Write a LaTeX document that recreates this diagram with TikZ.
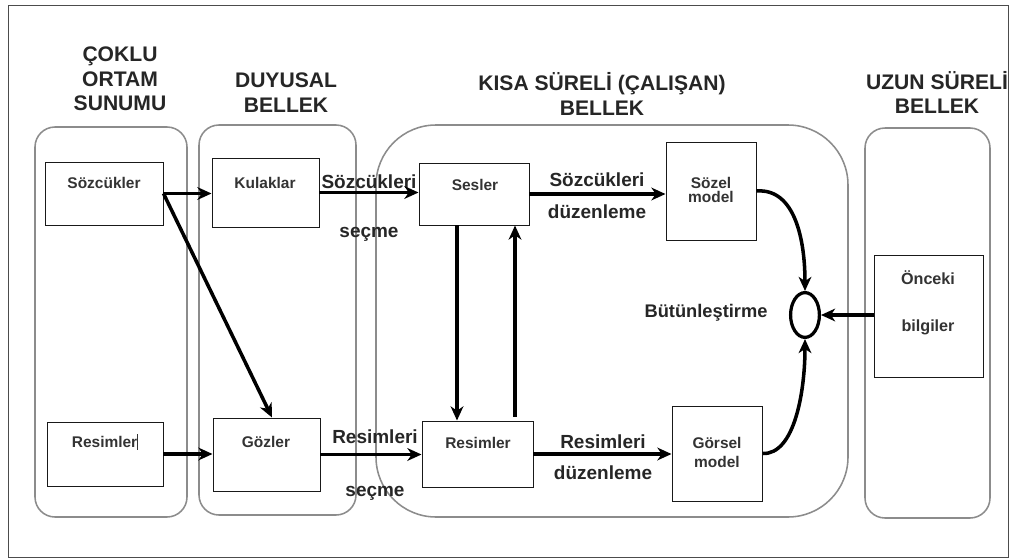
\documentclass[tikz,border=0pt]{standalone}
\usepackage{fontspec}
\setmainfont{Liberation Sans}
\usetikzlibrary{arrows.meta,fit,shapes.geometric}
\tikzset{
  cont/.style={draw=black!45, line width=1.1pt, rounded corners=0.5cm, inner sep=0pt},
  box/.style={draw=black!90, line width=0.7pt, inner sep=0pt},
  arr/.style={line width=2.5pt, -{Stealth[length=10pt,width=9pt,inset=3pt]}},
  head/.style={font=\fontsize{15}{17.5}\selectfont\bfseries, align=center, text=black!85, inner sep=0pt},
  blab/.style={font=\fontsize{11}{13}\selectfont\bfseries, text=black!80, inner sep=0pt, align=center},
  alab/.style={font=\fontsize{13.5}{15}\selectfont\bfseries, text=black!85, inner sep=0pt},
}
\begin{document}
\begin{tikzpicture}[x=0.025cm, y=-0.025cm]
\useasboundingbox (0,0) rectangle (1014,559);
\draw[black!70, line width=0.6pt] (8,5) rectangle (1008,557);

% containers
\node[cont, fit={(35,127) (187,517)}] (c1) {};
\node[cont, fit={(199,125) (356,515)}] (c2) {};
\node[cont, rounded corners=1.5cm, fit={(376,125) (848,517)}] (c3) {};
\node[cont, fit={(865,128) (990,518)}] (c4) {};

% headings
\node[head] (h1) at (120,79) {ÇOKLU\\ORTAM\\SUNUMU};
\node[head] (h2) at (286,92.5) {DUYUSAL\\BELLEK};
\node[head] (h3) at (602,94) {KISA SÜRELİ (ÇALIŞAN)\\BELLEK};
\node[head] (h4) at (937,92.5) {UZUN SÜRELİ\\BELLEK};

% inner boxes
\node[box, fit={(45,162) (163,225)}] (sozB) {};
\node[box, fit={(212,158) (319,227)}] (kulB) {};
\node[box, fit={(47,422) (163,486)}] (resL) {};
\node[box, fit={(213,418) (320,491)}] (gozB) {};
\node[box, fit={(419,163) (529,225)}] (sesB) {};
\node[box, fit={(666,142) (756,240)}] (sozel) {};
\node[box, fit={(422,421) (533,487)}] (resM) {};
\node[box, fit={(672,406) (762,501)}] (gors) {};
\node[box, fit={(874,255) (983,377)}] (once) {};
\node[draw, ellipse, line width=2.3pt, minimum width=0.72cm, minimum height=1.12cm, inner sep=0pt] (ell) at (805,315) {};

% box labels
\node[blab] (t1) at (104,183) {Sözcükler};
\node[blab] (t2) at (265,183) {Kulaklar};
\node[blab] (t3) at (105,442) {Resimler\rule[-1.5pt]{0.6pt}{11pt}};
\node[blab] (t4) at (266,442) {Gözler};
\node[blab] (t5) at (475,185) {Sesler};
\node[blab, font=\fontsize{11}{10}\selectfont\bfseries] (t6) at (711,190) {Sözel\\model};
\node[blab] (t7) at (478,443) {Resimler};
\node[blab, font=\fontsize{11}{13.5}\selectfont\bfseries] (t8) at (717,452) {Görsel\\model};
\node[blab, font=\fontsize{11.5}{13}\selectfont\bfseries] (t9) at (928,278) {Önceki};
\node[blab, font=\fontsize{11.5}{13}\selectfont\bfseries] (t10) at (928,327) {bilgiler};
\node[alab, font=\fontsize{13}{15}\selectfont\bfseries] (t11) at (706,313) {Bütünleştirme};

% arrow labels
\node[alab] (l1) at (369,182) {Sözcükleri};
\node[alab] (l2) at (369,234) {seçme};
\node[alab] (l3) at (375,437) {Resimleri};
\node[alab] (l4) at (375,493) {seçme};
\node[alab] (l5) at (597,180) {Sözcükleri};
\node[alab] (l6) at (597,212) {düzenleme};
\node[alab] (l7) at (603,442) {Resimleri};
\node[alab] (l8) at (603,473) {düzenleme};

% helper coordinates
\coordinate (xa) at (457,0);
\coordinate (xb) at (515,0);
\coordinate (xg) at (272,0);

% connectors
\draw[arr] (sozB.east) -- (sozB.east -| kulB.west);
\draw[arr] (sozB.east) -- (gozB.north -| xg);
\draw[arr] (kulB.east) -- (kulB.east -| sesB.west);
\draw[arr] (resL.east) -- (resL.east -| gozB.west);
\draw[arr] (gozB.east) -- (gozB.east -| resM.west);
\draw[arr] (sesB.east) -- (sesB.east -| sozel.west);
\draw[arr] (resM.east) -- (resM.east -| gors.west);
\draw[arr] (sesB.south -| xa) -- (resM.north -| xa);
\draw[arr] ([yshift=0.1cm]resM.north -| xb) -- (sesB.south -| xb);
\draw[arr] (sozel.east) .. controls (795,188) and (805,240) .. (ell.north);
\draw[arr] (gors.east) .. controls (795,455) and (805,390) .. (ell.south);
\draw[arr] (once.west |- ell.east) -- (ell.east);
\end{tikzpicture}
\end{document}
